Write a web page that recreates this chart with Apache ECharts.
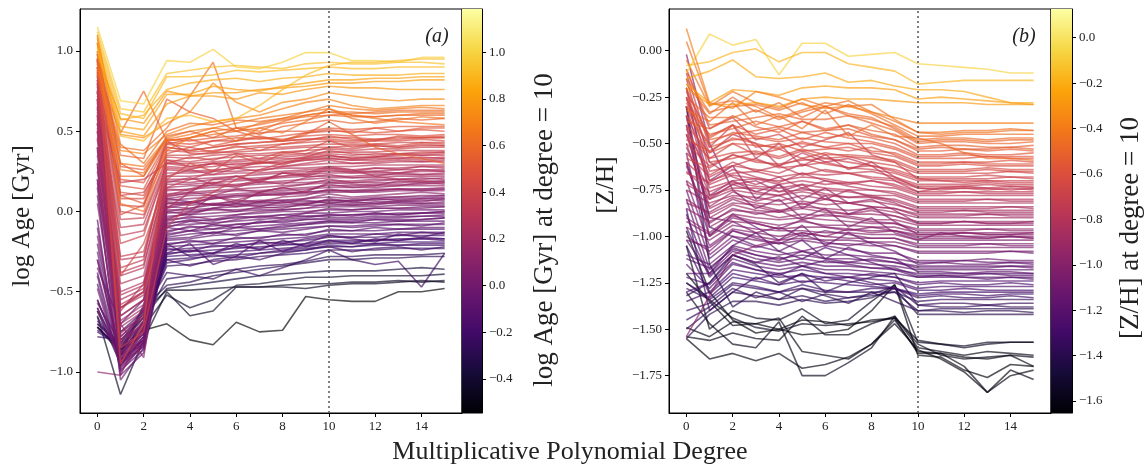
<!DOCTYPE html>
<html><head><meta charset="utf-8">
<script src="https://cdn.jsdelivr.net/npm/echarts@6/dist/echarts.min.js"></script>
<style>html,body{margin:0;padding:0;background:#fff}#c{width:1146px;height:465px}</style>
</head><body><div id="c"></div>
<script>
// ---------------- data ----------------
const degrees = [0,1,2,3,4,5,6,7,8,9,10,11,12,13,14,15];
const refDegree = 10;
const xTicks = [0,2,4,6,8,10,12,14];
const ageTicks = [-1.0,-0.5,0.0,0.5,1.0];
const zhTicks = [-1.75,-1.5,-1.25,-1.0,-0.75,-0.5,-0.25,0.0];
const ageBarTicks = [-0.4,-0.2,0.0,0.2,0.4,0.6,0.8,1.0];
const zhBarTicks = [-1.6,-1.4,-1.2,-1.0,-0.8,-0.6,-0.4,-0.2,0.0];
const ageColorRange = [-0.5457, 1.1855];
const zhColorRange = [-1.6528, 0.1264];

// log Age [Gyr] vs degree 0..15
const ageYellow = [
 [1.15,0.69,0.67,0.94,0.93,1.01,0.90,0.89,0.93,0.99,0.99,0.94,0.94,0.93,0.96,0.96],
 [1.12,0.64,0.62,0.86,0.88,0.90,0.91,0.90,0.89,0.92,0.93,0.92,0.92,0.93,0.93,0.92],
 [1.09,0.61,0.58,0.84,0.84,0.85,0.88,0.87,0.88,0.89,0.90,0.89,0.89,0.90,0.90,0.90],
 [1.06,0.57,0.60,0.76,0.80,0.82,0.83,0.81,0.83,0.84,0.86,0.85,0.85,0.85,0.86,0.86],
 [1.03,0.53,0.51,0.73,0.73,0.78,0.76,0.75,0.78,0.80,0.82,0.82,0.83,0.83,0.84,0.84],
 [1.00,0.50,0.47,0.67,0.72,0.74,0.74,0.76,0.77,0.78,0.80,0.80,0.81,0.81,0.82,0.82],
 [1.02,0.47,0.44,0.58,0.60,0.56,0.58,0.66,0.76,0.85,0.91,0.93,0.93,0.94,0.95,0.95],
 [0.97,0.58,0.55,0.75,0.72,0.72,0.70,0.74,0.73,0.76,0.78,0.77,0.77,0.76,0.76,0.76]
];
const ageOrange = [
 [0.98,0.48,0.46,0.55,0.62,0.80,0.68,0.62,0.68,0.70,0.74,0.72,0.70,0.69,0.70,0.70],
 [0.95,0.40,0.38,0.52,0.72,0.93,0.52,0.50,0.56,0.60,0.62,0.60,0.59,0.60,0.61,0.61],
 [0.92,0.38,0.36,0.48,0.53,0.56,0.58,0.60,0.64,0.68,0.70,0.66,0.64,0.65,0.66,0.66],
 [0.90,0.30,0.28,0.46,0.50,0.52,0.55,0.58,0.60,0.62,0.66,0.64,0.63,0.64,0.65,0.64],
 [0.88,0.49,0.75,0.44,0.46,0.50,0.52,0.54,0.57,0.59,0.60,0.61,0.62,0.63,0.63,0.63],
 [0.93,0.26,0.24,0.45,0.48,0.52,0.50,0.55,0.58,0.62,0.64,0.60,0.58,0.56,0.55,0.54],
 [0.86,0.22,0.22,0.44,0.46,0.48,0.50,0.52,0.55,0.57,0.60,0.59,0.59,0.60,0.60,0.60],
 [0.96,0.35,0.33,0.70,0.62,0.58,0.50,0.46,0.44,0.48,0.56,0.48,0.40,0.36,0.33,0.30],
 [1.08,0.42,0.30,0.50,0.55,0.54,0.57,0.56,0.58,0.60,0.62,0.62,0.61,0.62,0.62,0.62],
 [0.98,0.30,0.22,0.47,0.50,0.46,0.52,0.48,0.53,0.55,0.57,0.55,0.56,0.58,0.57,0.58],
 [1.05,0.05,0.00,0.38,0.46,0.50,0.44,0.52,0.49,0.56,0.64,0.58,0.55,0.57,0.59,0.58]
];
const ageRed = [
 [1.10,0.28,0.26,0.45,0.44,0.46,0.47,0.49,0.50,0.50,0.52,0.51,0.52,0.53,0.53,0.53],
 [1.05,0.20,0.18,0.43,0.42,0.44,0.46,0.45,0.47,0.49,0.50,0.50,0.49,0.50,0.51,0.50],
 [0.98,0.16,0.14,0.42,0.40,0.44,0.44,0.46,0.45,0.47,0.48,0.47,0.48,0.48,0.47,0.48],
 [0.94,0.12,0.10,0.40,0.38,0.40,0.42,0.43,0.44,0.45,0.46,0.46,0.45,0.46,0.46,0.46],
 [0.90,0.08,0.08,0.38,0.37,0.38,0.40,0.41,0.42,0.43,0.44,0.43,0.44,0.44,0.45,0.44],
 [0.86,0.04,0.03,0.44,0.36,0.36,0.38,0.40,0.40,0.41,0.42,0.42,0.42,0.43,0.43,0.43],
 [0.84,0.10,0.12,0.35,0.35,0.37,0.37,0.38,0.39,0.40,0.40,0.41,0.41,0.40,0.41,0.41],
 [0.80,0.00,-0.02,0.34,0.33,0.35,0.36,0.36,0.37,0.38,0.39,0.38,0.39,0.39,0.40,0.40],
 [0.76,-0.05,-0.04,0.32,0.31,0.33,0.34,0.35,0.35,0.36,0.37,0.37,0.37,0.38,0.38,0.38],
 [0.72,0.18,0.20,0.30,0.30,0.31,0.32,0.33,0.34,0.35,0.36,0.35,0.36,0.36,0.36,0.37],
 [0.70,-0.10,-0.08,0.30,0.28,0.30,0.31,0.32,0.33,0.33,0.34,0.34,0.34,0.35,0.35,0.35],
 [0.66,-0.15,-0.12,0.28,0.27,0.28,0.30,0.30,0.31,0.32,0.33,0.32,0.33,0.33,0.34,0.33],
 [0.88,-0.60,-0.50,0.15,0.20,0.25,0.28,0.30,0.32,0.34,0.35,0.33,0.34,0.34,0.33,0.34],
 [1.00,-0.85,-0.75,-0.10,0.05,0.12,0.20,0.26,0.30,0.34,0.38,0.36,0.35,0.36,0.37,0.37],
 [0.95,-0.95,-0.70,0.40,0.38,0.40,0.42,0.43,0.44,0.45,0.45,0.44,0.45,0.45,0.46,0.46],
 [0.92,0.10,0.05,0.42,0.45,0.41,0.44,0.47,0.44,0.49,0.51,0.49,0.52,0.50,0.52,0.52],
 [0.87,-0.02,0.04,0.36,0.40,0.37,0.41,0.38,0.42,0.44,0.47,0.45,0.44,0.47,0.46,0.47],
 [0.82,-0.20,-0.15,0.30,0.34,0.32,0.36,0.33,0.37,0.36,0.40,0.39,0.41,0.40,0.42,0.41],
 [0.74,-0.28,-0.25,0.27,0.26,0.30,0.27,0.31,0.29,0.33,0.35,0.33,0.34,0.36,0.35,0.36],
 [0.90,-0.40,-0.20,0.20,0.30,0.25,0.35,0.30,0.36,0.38,0.44,0.40,0.42,0.41,0.43,0.42]
];
const ageMagenta = [
 [0.90,-0.30,-0.28,0.26,0.25,0.26,0.27,0.28,0.28,0.29,0.30,0.30,0.30,0.31,0.31,0.31],
 [0.82,-0.40,-0.35,0.24,0.24,0.25,0.25,0.26,0.27,0.27,0.28,0.28,0.29,0.29,0.29,0.29],
 [0.75,-0.45,-0.40,0.22,0.22,0.23,0.24,0.24,0.25,0.26,0.27,0.26,0.27,0.27,0.28,0.28],
 [0.68,-0.50,-0.44,0.20,0.20,0.21,0.22,0.23,0.24,0.25,0.25,0.25,0.25,0.26,0.26,0.26],
 [0.60,-0.55,-0.48,0.19,0.18,0.20,0.20,0.21,0.22,0.23,0.24,0.24,0.24,0.24,0.25,0.25],
 [0.55,-0.60,-0.52,0.17,0.17,0.18,0.19,0.20,0.21,0.22,0.22,0.22,0.23,0.23,0.23,0.23],
 [0.50,-0.65,-0.55,0.15,0.16,0.16,0.17,0.18,0.19,0.20,0.21,0.21,0.21,0.22,0.22,0.22],
 [0.45,-0.68,-0.58,0.13,0.14,0.15,0.16,0.17,0.18,0.18,0.19,0.19,0.20,0.20,0.20,0.21],
 [0.40,-0.72,-0.62,0.11,0.12,0.13,0.14,0.15,0.16,0.17,0.18,0.18,0.18,0.18,0.19,0.19],
 [0.35,-0.75,-0.65,0.10,0.11,0.12,0.13,0.13,0.14,0.15,0.16,0.16,0.17,0.17,0.17,0.18],
 [0.30,-0.78,-0.66,0.08,0.10,0.10,0.11,0.12,0.13,0.14,0.15,0.15,0.15,0.16,0.16,0.16],
 [0.25,-0.80,-0.70,0.07,0.08,0.09,0.10,0.11,0.12,0.12,0.13,0.13,0.14,0.14,0.14,0.15],
 [-1.00,-1.02,-0.72,0.02,0.05,0.08,0.10,0.10,0.11,0.12,0.13,0.13,0.13,0.14,0.14,0.14],
 [0.20,-0.70,-0.91,0.05,0.06,0.08,0.09,0.10,0.11,0.11,0.12,0.12,0.12,0.13,0.13,0.13],
 [0.62,-0.58,-0.50,0.10,0.14,0.18,0.16,0.20,0.22,0.24,0.28,0.26,0.22,0.20,0.19,0.18],
 [0.78,-0.35,-0.30,0.32,0.28,0.30,0.29,0.31,0.30,0.32,0.33,0.32,0.32,0.33,0.32,0.33],
 [0.58,-0.62,-0.45,0.02,0.12,0.20,0.22,0.18,0.24,0.22,0.26,0.24,0.25,0.24,0.26,0.25],
 [0.64,-0.38,-0.33,0.22,0.26,0.23,0.27,0.25,0.28,0.30,0.32,0.30,0.31,0.32,0.31,0.32],
 [0.52,-0.52,-0.46,0.18,0.21,0.17,0.22,0.19,0.24,0.23,0.27,0.25,0.27,0.26,0.28,0.27],
 [0.46,-0.60,-0.50,0.14,0.13,0.17,0.15,0.19,0.17,0.21,0.23,0.21,0.22,0.24,0.23,0.24],
 [0.38,-0.70,-0.60,0.09,0.12,0.10,0.14,0.12,0.15,0.17,0.20,0.18,0.19,0.20,0.21,0.20],
 [0.28,-0.76,-0.64,0.06,0.05,0.09,0.07,0.11,0.10,0.13,0.17,0.15,0.16,0.16,0.18,0.17],
 [0.70,-0.65,-0.55,-0.05,0.00,0.10,0.05,0.12,0.15,0.12,0.18,0.17,0.16,0.19,0.18,0.19]
];
const agePurple = [
 [0.85,-0.85,-0.70,0.05,0.04,0.05,0.06,0.07,0.07,0.08,0.09,0.08,0.09,0.09,0.09,0.10],
 [0.70,-0.88,-0.72,0.03,0.02,0.04,0.04,0.05,0.06,0.06,0.07,0.07,0.07,0.08,0.08,0.08],
 [0.50,-0.90,-0.74,0.01,0.01,0.02,0.03,0.04,0.04,0.05,0.06,0.05,0.06,0.06,0.07,0.07],
 [0.30,-0.92,-0.76,-0.01,0.00,0.01,0.01,0.02,0.03,0.04,0.04,0.04,0.05,0.05,0.05,0.05],
 [0.10,-0.94,-0.78,-0.03,-0.02,-0.01,0.00,0.01,0.01,0.02,0.03,0.03,0.03,0.04,0.04,0.04],
 [-0.10,-0.95,-0.80,-0.05,-0.04,-0.03,-0.02,-0.01,0.00,0.00,0.01,0.01,0.02,0.02,0.02,0.03],
 [-0.25,-0.96,-0.82,-0.07,-0.06,-0.05,-0.04,-0.03,-0.02,-0.01,-0.01,0.00,0.00,0.01,0.01,0.01],
 [-0.40,-0.98,-0.83,-0.09,-0.08,-0.07,-0.06,-0.05,-0.04,-0.03,-0.02,-0.02,-0.02,-0.01,-0.01,-0.01],
 [-0.55,-0.92,-0.80,-0.12,-0.10,-0.09,-0.08,-0.07,-0.06,-0.05,-0.04,-0.04,-0.03,-0.03,-0.03,-0.02],
 [-0.62,-0.88,-0.76,-0.14,-0.12,-0.11,-0.10,-0.09,-0.08,-0.07,-0.06,-0.06,-0.05,-0.05,-0.05,-0.04],
 [-0.70,-0.85,-0.74,-0.16,-0.14,-0.13,-0.12,-0.11,-0.10,-0.08,-0.07,-0.07,-0.07,-0.06,-0.06,-0.06],
 [0.60,-0.80,-0.68,0.00,-0.02,0.02,0.05,0.03,0.06,0.04,0.08,0.06,0.05,0.07,0.06,0.08],
 [-0.57,-0.82,-0.60,-0.18,-0.17,-0.15,-0.14,-0.12,-0.11,-0.10,-0.09,-0.09,-0.08,-0.08,-0.08,-0.08],
 [0.95,-1.00,-0.82,0.08,0.06,0.04,0.05,0.06,0.07,0.07,0.05,0.07,0.08,0.09,0.10,0.10],
 [0.15,-1.05,-0.85,-0.08,-0.05,-0.06,-0.03,-0.04,-0.02,-0.03,-0.03,-0.02,-0.01,-0.02,-0.01,0.00],
 [-0.35,-0.70,-0.55,-0.10,-0.12,-0.08,-0.10,-0.06,-0.07,-0.05,-0.05,-0.05,-0.04,-0.04,-0.03,-0.03],
 [0.18,-0.82,-0.70,0.03,0.06,0.04,0.07,0.06,0.09,0.10,0.14,0.12,0.13,0.14,0.13,0.14],
 [0.05,-0.88,-0.74,0.00,0.02,0.05,0.03,0.06,0.05,0.08,0.11,0.09,0.10,0.11,0.12,0.11],
 [-0.15,-0.91,-0.78,-0.04,-0.01,0.02,0.00,0.03,0.02,0.05,0.07,0.06,0.08,0.07,0.08,0.09],
 [-0.30,-0.93,-0.81,-0.06,-0.03,-0.05,-0.02,0.00,0.01,0.02,0.05,0.04,0.04,0.06,0.05,0.06],
 [-0.48,-0.97,-0.84,-0.10,-0.06,-0.08,-0.05,-0.03,-0.04,-0.01,0.02,0.01,0.02,0.02,0.03,0.03],
 [-0.60,-0.94,-0.82,-0.13,-0.09,-0.11,-0.08,-0.07,-0.05,-0.04,-0.02,-0.03,-0.01,-0.02,-0.01,0.00],
 [0.80,-0.96,-0.78,-0.15,-0.12,-0.14,-0.10,-0.11,-0.09,-0.08,-0.06,-0.07,-0.05,-0.06,-0.05,-0.04]
];
const ageDeepPurple = [
 [0.20,-0.90,-0.80,-0.20,-0.19,-0.18,-0.17,-0.16,-0.15,-0.14,-0.12,-0.12,-0.12,-0.11,-0.11,-0.11],
 [-0.20,-0.92,-0.82,-0.22,-0.21,-0.20,-0.19,-0.18,-0.17,-0.16,-0.14,-0.14,-0.14,-0.13,-0.13,-0.13],
 [-0.45,-0.95,-0.84,-0.24,-0.23,-0.22,-0.21,-0.20,-0.19,-0.18,-0.16,-0.16,-0.16,-0.15,-0.15,-0.15],
 [-0.60,-0.90,-0.76,-0.26,-0.25,-0.24,-0.23,-0.22,-0.21,-0.20,-0.18,-0.18,-0.18,-0.17,-0.17,-0.17],
 [-0.68,-0.86,-0.72,-0.28,-0.27,-0.26,-0.25,-0.24,-0.23,-0.22,-0.20,-0.20,-0.20,-0.19,-0.19,-0.19],
 [-0.75,-0.84,-0.70,-0.30,-0.29,-0.28,-0.27,-0.26,-0.24,-0.23,-0.22,-0.22,-0.21,-0.21,-0.21,-0.21],
 [-0.78,-0.80,-0.66,-0.34,-0.33,-0.31,-0.30,-0.28,-0.27,-0.26,-0.24,-0.24,-0.24,-0.23,-0.23,-0.23],
 [0.40,-0.75,-0.62,-0.38,-0.40,-0.42,-0.36,-0.40,-0.35,-0.30,-0.24,-0.30,-0.33,-0.31,-0.47,-0.26],
 [-0.55,-0.90,-0.68,-0.42,-0.40,-0.38,-0.36,-0.34,-0.33,-0.31,-0.28,-0.28,-0.27,-0.27,-0.27,-0.26],
 [-0.72,-0.86,-0.60,-0.46,-0.44,-0.40,-0.38,-0.36,-0.34,-0.32,-0.30,-0.30,-0.29,-0.29,-0.28,-0.28],
 [-0.30,-0.88,-0.70,-0.20,-0.28,-0.26,-0.20,-0.24,-0.18,-0.22,-0.18,-0.20,-0.17,-0.18,-0.16,-0.17],
 [0.75,-0.78,-0.64,-0.30,-0.34,-0.30,-0.28,-0.30,-0.26,-0.24,-0.22,-0.25,-0.23,-0.22,-0.24,-0.22],
 [0.55,-0.99,-0.86,-0.17,-0.16,-0.13,-0.15,-0.12,-0.13,-0.11,-0.09,-0.10,-0.09,-0.08,-0.09,-0.07],
 [-0.05,-1.02,-0.88,-0.21,-0.18,-0.20,-0.16,-0.17,-0.14,-0.15,-0.11,-0.12,-0.10,-0.11,-0.10,-0.10],
 [-0.38,-0.93,-0.80,-0.23,-0.25,-0.21,-0.22,-0.19,-0.20,-0.17,-0.15,-0.16,-0.14,-0.15,-0.13,-0.14],
 [-0.66,-0.89,-0.74,-0.27,-0.24,-0.26,-0.22,-0.23,-0.20,-0.21,-0.19,-0.19,-0.18,-0.18,-0.17,-0.18],
 [-0.74,-0.83,-0.69,-0.32,-0.30,-0.27,-0.29,-0.26,-0.25,-0.24,-0.21,-0.22,-0.20,-0.21,-0.20,-0.20],
 [0.65,-0.90,-0.58,-0.26,-0.20,-0.33,-0.28,-0.18,-0.25,-0.20,-0.15,-0.17,-0.19,-0.14,-0.16,-0.13]
];
const ageDark = [
 [-0.72,-0.86,-0.74,-0.70,-0.80,-0.83,-0.69,-0.75,-0.74,-0.53,-0.55,-0.56,-0.56,-0.50,-0.50,-0.48],
 [-0.72,-0.88,-0.62,-0.49,-0.49,-0.48,-0.47,-0.47,-0.47,-0.48,-0.46,-0.45,-0.45,-0.44,-0.43,-0.44],
 [-0.65,-1.14,-0.80,-0.50,-0.65,-0.62,-0.47,-0.47,-0.46,-0.45,-0.45,-0.44,-0.44,-0.43,-0.44,-0.43],
 [-0.62,-0.95,-0.72,-0.52,-0.60,-0.55,-0.46,-0.45,-0.43,-0.41,-0.41,-0.40,-0.40,-0.40,-0.40,-0.39],
 [-0.70,-0.82,-0.66,-0.48,-0.46,-0.44,-0.42,-0.40,-0.39,-0.38,-0.37,-0.37,-0.37,-0.36,-0.35,-0.36]
];

// [Z/H] vs degree 0..15
const zhYellow = [
 [-0.12,0.09,0.03,0.06,-0.13,0.04,0.04,-0.03,-0.02,-0.01,-0.07,-0.08,-0.09,-0.10,-0.12,-0.12],
 [-0.08,-0.06,-0.01,0.01,-0.06,-0.01,-0.01,-0.07,-0.09,-0.11,-0.18,-0.17,-0.16,-0.16,-0.16,-0.16],
 [-0.15,-0.11,-0.05,-0.14,-0.15,-0.14,-0.12,-0.17,-0.16,-0.19,-0.21,-0.21,-0.22,-0.25,-0.28,-0.28],
 [-0.18,-0.28,-0.21,-0.22,-0.24,-0.20,-0.19,-0.20,-0.20,-0.21,-0.26,-0.25,-0.26,-0.27,-0.28,-0.29],
 [-0.20,-0.29,-0.29,-0.28,-0.30,-0.26,-0.25,-0.26,-0.26,-0.27,-0.28,-0.28,-0.28,-0.29,-0.29,-0.29],
 [0.12,-0.28,-0.31,-0.22,-0.25,-0.29,-0.31,-0.30,-0.33,-0.36,-0.39,-0.39,-0.39,-0.39,-0.39,-0.39]
];
const zhOrange = [
 [-0.05,-0.30,-0.22,-0.28,-0.31,-0.26,-0.30,-0.27,-0.33,-0.38,-0.44,-0.44,-0.43,-0.43,-0.42,-0.43],
 [-0.15,-0.33,-0.30,-0.29,-0.32,-0.28,-0.34,-0.29,-0.34,-0.40,-0.46,-0.46,-0.45,-0.45,-0.45,-0.45],
 [-0.25,-0.36,-0.36,-0.32,-0.37,-0.33,-0.30,-0.35,-0.37,-0.41,-0.48,-0.47,-0.47,-0.48,-0.47,-0.47],
 [-0.10,-0.40,-0.38,-0.36,-0.34,-0.37,-0.37,-0.35,-0.39,-0.43,-0.50,-0.49,-0.49,-0.50,-0.50,-0.49],
 [-0.30,-0.45,-0.42,-0.38,-0.41,-0.38,-0.42,-0.40,-0.43,-0.45,-0.52,-0.51,-0.51,-0.52,-0.52,-0.51],
 [-0.20,-0.48,-0.45,-0.43,-0.41,-0.44,-0.43,-0.42,-0.46,-0.48,-0.54,-0.54,-0.53,-0.54,-0.53,-0.54],
 [-0.35,-0.50,-0.44,-0.46,-0.48,-0.44,-0.47,-0.45,-0.47,-0.50,-0.56,-0.56,-0.55,-0.56,-0.56,-0.55],
 [-0.28,-0.52,-0.48,-0.47,-0.49,-0.47,-0.49,-0.50,-0.50,-0.53,-0.58,-0.58,-0.58,-0.57,-0.58,-0.58],
 [-0.40,-0.55,-0.50,-0.51,-0.52,-0.50,-0.52,-0.50,-0.54,-0.55,-0.60,-0.60,-0.60,-0.60,-0.59,-0.60],
 [-0.22,-0.46,-0.40,-0.52,-0.50,-0.54,-0.53,-0.52,-0.55,-0.57,-0.62,-0.62,-0.61,-0.62,-0.62,-0.62],
 [-0.45,-0.58,-0.55,-0.54,-0.57,-0.53,-0.56,-0.56,-0.57,-0.59,-0.64,-0.64,-0.64,-0.63,-0.64,-0.64],
 [-0.32,-0.38,-0.28,-0.40,-0.35,-0.42,-0.32,-0.46,-0.40,-0.46,-0.47,-0.50,-0.55,-0.58,-0.58,-0.59],
 [0.05,-0.29,-0.27,-0.30,-0.36,-0.32,-0.28,-0.30,-0.29,-0.37,-0.44,-0.45,-0.44,-0.44,-0.43,-0.43],
 [-0.18,-0.34,-0.25,-0.33,-0.28,-0.36,-0.30,-0.34,-0.36,-0.42,-0.49,-0.48,-0.48,-0.49,-0.48,-0.48],
 [-0.38,-0.42,-0.35,-0.41,-0.44,-0.38,-0.43,-0.40,-0.45,-0.48,-0.53,-0.52,-0.53,-0.53,-0.52,-0.53],
 [-0.26,-0.47,-0.40,-0.45,-0.42,-0.48,-0.44,-0.47,-0.49,-0.52,-0.57,-0.57,-0.56,-0.57,-0.57,-0.57],
 [-0.48,-0.54,-0.47,-0.50,-0.53,-0.49,-0.52,-0.54,-0.52,-0.56,-0.61,-0.61,-0.60,-0.61,-0.61,-0.61]
];
const zhRed = [
 [-0.35,-0.60,-0.58,-0.55,-0.58,-0.54,-0.58,-0.57,-0.60,-0.62,-0.66,-0.66,-0.66,-0.66,-0.65,-0.66],
 [-0.50,-0.62,-0.56,-0.60,-0.61,-0.59,-0.58,-0.60,-0.62,-0.64,-0.68,-0.68,-0.68,-0.67,-0.68,-0.68],
 [-0.20,-0.65,-0.62,-0.58,-0.63,-0.62,-0.60,-0.63,-0.64,-0.66,-0.70,-0.70,-0.70,-0.70,-0.70,-0.70],
 [-0.55,-0.68,-0.62,-0.64,-0.66,-0.61,-0.65,-0.66,-0.65,-0.68,-0.72,-0.72,-0.72,-0.71,-0.72,-0.72],
 [-0.40,-0.70,-0.66,-0.65,-0.68,-0.66,-0.67,-0.66,-0.69,-0.70,-0.74,-0.74,-0.74,-0.74,-0.73,-0.74],
 [-0.60,-0.72,-0.67,-0.69,-0.70,-0.68,-0.69,-0.71,-0.70,-0.72,-0.76,-0.76,-0.76,-0.76,-0.76,-0.76],
 [-0.30,-0.74,-0.70,-0.69,-0.72,-0.70,-0.72,-0.71,-0.73,-0.74,-0.78,-0.78,-0.78,-0.78,-0.78,-0.78],
 [-0.65,-0.76,-0.71,-0.73,-0.74,-0.72,-0.74,-0.75,-0.75,-0.76,-0.80,-0.80,-0.80,-0.80,-0.80,-0.80],
 [-0.45,-0.78,-0.74,-0.74,-0.76,-0.75,-0.75,-0.76,-0.78,-0.78,-0.82,-0.82,-0.82,-0.82,-0.82,-0.82],
 [-0.70,-0.80,-0.75,-0.77,-0.78,-0.76,-0.78,-0.79,-0.79,-0.80,-0.84,-0.84,-0.84,-0.84,-0.84,-0.84],
 [-0.25,-0.55,-0.45,-0.50,-0.62,-0.55,-0.60,-0.58,-0.62,-0.70,-0.76,-0.74,-0.73,-0.74,-0.75,-0.74],
 [-0.10,-0.42,-0.36,-0.48,-0.45,-0.52,-0.48,-0.44,-0.56,-0.60,-0.69,-0.70,-0.71,-0.70,-0.71,-0.71],
 [-0.30,-0.58,-0.50,-0.56,-0.53,-0.58,-0.55,-0.57,-0.58,-0.60,-0.65,-0.65,-0.65,-0.64,-0.65,-0.65],
 [-0.58,-0.63,-0.56,-0.59,-0.62,-0.58,-0.61,-0.63,-0.62,-0.65,-0.69,-0.69,-0.69,-0.69,-0.68,-0.69],
 [-0.42,-0.67,-0.60,-0.65,-0.62,-0.67,-0.64,-0.66,-0.68,-0.69,-0.73,-0.73,-0.73,-0.72,-0.73,-0.73],
 [-0.66,-0.71,-0.64,-0.68,-0.71,-0.66,-0.70,-0.72,-0.70,-0.73,-0.77,-0.77,-0.76,-0.77,-0.77,-0.77],
 [-0.15,-0.60,-0.68,-0.72,-0.68,-0.74,-0.70,-0.73,-0.75,-0.77,-0.81,-0.81,-0.81,-0.80,-0.81,-0.81],
 [-0.72,-0.79,-0.72,-0.76,-0.78,-0.74,-0.77,-0.79,-0.78,-0.81,-0.85,-0.85,-0.85,-0.85,-0.84,-0.85],
 [-0.12,-0.52,-0.40,-0.58,-0.50,-0.62,-0.56,-0.64,-0.60,-0.68,-0.74,-0.75,-0.74,-0.75,-0.74,-0.75]
];
const zhPurple = [
 [-0.75,-0.82,-0.78,-0.79,-0.81,-0.78,-0.80,-0.82,-0.81,-0.83,-0.86,-0.86,-0.86,-0.86,-0.86,-0.86],
 [-0.50,-0.85,-0.79,-0.82,-0.83,-0.81,-0.83,-0.82,-0.84,-0.85,-0.88,-0.88,-0.88,-0.88,-0.88,-0.88],
 [-0.80,-0.88,-0.82,-0.83,-0.86,-0.84,-0.85,-0.86,-0.85,-0.87,-0.90,-0.90,-0.90,-0.90,-0.90,-0.90],
 [-0.35,-0.90,-0.83,-0.86,-0.87,-0.85,-0.87,-0.88,-0.88,-0.89,-0.92,-0.92,-0.92,-0.92,-0.92,-0.92],
 [-0.85,-0.92,-0.86,-0.87,-0.90,-0.88,-0.89,-0.89,-0.91,-0.91,-0.94,-0.94,-0.94,-0.94,-0.94,-0.94],
 [-0.60,-0.95,-0.88,-0.90,-0.91,-0.90,-0.91,-0.92,-0.93,-0.93,-0.96,-0.96,-0.96,-0.96,-0.96,-0.96],
 [-0.90,-0.98,-0.89,-0.92,-0.94,-0.92,-0.94,-0.94,-0.95,-0.95,-0.98,-0.98,-0.98,-0.98,-0.98,-0.98],
 [-0.40,-1.00,-0.92,-0.93,-0.96,-0.95,-0.95,-0.96,-0.97,-0.97,-1.00,-1.00,-1.00,-1.00,-1.00,-1.00],
 [-0.95,-1.02,-0.94,-0.96,-0.97,-0.97,-0.98,-0.98,-0.99,-0.99,-1.02,-1.02,-1.02,-1.02,-1.02,-1.02],
 [-0.70,-1.05,-0.96,-0.98,-1.00,-0.98,-1.00,-1.01,-1.01,-1.01,-1.04,-1.04,-1.04,-1.04,-1.04,-1.04],
 [-1.00,-1.08,-0.97,-1.00,-1.02,-1.01,-1.02,-1.02,-1.03,-1.03,-1.06,-1.06,-1.06,-1.06,-1.06,-1.06],
 [-0.55,-1.10,-1.00,-1.02,-1.04,-1.02,-1.04,-1.04,-1.05,-1.05,-1.08,-1.08,-1.08,-1.08,-1.08,-1.08],
 [-0.02,-0.50,-0.75,-0.85,-0.80,-0.90,-0.85,-0.95,-0.90,-0.98,-1.02,-0.98,-1.00,-1.01,-1.00,-1.01],
 [-1.54,-1.32,-1.10,-1.05,-1.02,-0.98,-1.00,-0.96,-0.98,-0.97,-0.99,-0.99,-0.98,-0.99,-0.99,-0.99],
 [-0.20,-0.78,-0.70,-0.76,-0.72,-0.80,-0.74,-0.82,-0.80,-0.86,-0.93,-0.93,-0.92,-0.93,-0.93,-0.92],
 [-0.45,-0.84,-0.76,-0.81,-0.78,-0.83,-0.80,-0.82,-0.84,-0.85,-0.89,-0.89,-0.89,-0.88,-0.89,-0.89],
 [-0.82,-0.87,-0.80,-0.84,-0.87,-0.82,-0.86,-0.88,-0.86,-0.89,-0.93,-0.93,-0.92,-0.93,-0.93,-0.93],
 [-0.62,-0.93,-0.85,-0.88,-0.86,-0.91,-0.88,-0.90,-0.92,-0.93,-0.97,-0.97,-0.97,-0.96,-0.97,-0.97],
 [-0.92,-0.99,-0.90,-0.93,-0.96,-0.91,-0.95,-0.97,-0.95,-0.97,-1.01,-1.01,-1.01,-1.01,-1.00,-1.01],
 [-0.35,-0.90,-0.92,-0.98,-0.95,-1.00,-0.97,-0.99,-1.01,-1.01,-1.05,-1.05,-1.05,-1.04,-1.05,-1.05],
 [-1.02,-1.06,-0.97,-1.01,-1.04,-0.99,-1.03,-1.05,-1.03,-1.05,-1.09,-1.09,-1.09,-1.09,-1.08,-1.09],
 [-0.25,-0.70,-0.62,-0.80,-0.72,-0.85,-0.78,-0.88,-0.84,-0.92,-0.99,-0.99,-0.98,-0.99,-0.99,-0.98],
 [-0.52,-0.80,-0.72,-0.70,-0.76,-0.72,-0.80,-0.75,-0.79,-0.82,-0.87,-0.87,-0.86,-0.87,-0.87,-0.87]
];
const zhDeep = [
 [-1.10,-1.15,-1.05,-1.08,-1.10,-1.08,-1.10,-1.10,-1.11,-1.12,-1.14,-1.14,-1.13,-1.14,-1.14,-1.14],
 [-0.80,-1.18,-1.06,-1.10,-1.12,-1.10,-1.12,-1.12,-1.13,-1.14,-1.16,-1.16,-1.16,-1.16,-1.16,-1.16],
 [-1.20,-1.20,-1.08,-1.12,-1.14,-1.12,-1.14,-1.14,-1.15,-1.16,-1.18,-1.18,-1.18,-1.18,-1.18,-1.18],
 [-0.95,-1.22,-1.10,-1.14,-1.16,-1.14,-1.16,-1.16,-1.17,-1.18,-1.20,-1.20,-1.20,-1.20,-1.20,-1.20],
 [-1.30,-1.25,-1.12,-1.16,-1.18,-1.16,-1.18,-1.18,-1.19,-1.20,-1.22,-1.22,-1.22,-1.22,-1.22,-1.22],
 [-1.15,-1.28,-1.15,-1.18,-1.20,-1.18,-1.20,-1.20,-1.21,-1.22,-1.25,-1.24,-1.24,-1.24,-1.24,-1.24],
 [-1.35,-1.30,-1.18,-1.20,-1.22,-1.21,-1.22,-1.22,-1.23,-1.24,-1.28,-1.27,-1.27,-1.27,-1.27,-1.27],
 [-1.25,-1.33,-1.22,-1.24,-1.26,-1.24,-1.25,-1.26,-1.27,-1.28,-1.31,-1.30,-1.30,-1.30,-1.30,-1.30],
 [-1.40,-1.36,-1.26,-1.28,-1.30,-1.28,-1.30,-1.30,-1.30,-1.30,-1.35,-1.34,-1.34,-1.34,-1.34,-1.34],
 [-1.50,-1.40,-1.30,-1.32,-1.34,-1.32,-1.35,-1.33,-1.32,-1.30,-1.40,-1.39,-1.39,-1.39,-1.39,-1.39],
 [-1.55,-1.42,-1.35,-1.35,-1.37,-1.34,-1.36,-1.35,-1.33,-1.28,-1.42,-1.42,-1.42,-1.42,-1.42,-1.42],
 [-1.32,-1.25,-1.10,-1.15,-1.25,-1.20,-1.30,-1.25,-1.22,-1.20,-1.37,-1.38,-1.38,-1.37,-1.38,-1.38],
 [-0.30,-0.95,-1.00,-1.05,-1.08,-1.12,-1.06,-1.10,-1.14,-1.18,-1.22,-1.21,-1.22,-1.23,-1.22,-1.23],
 [-0.75,-1.12,-1.02,-1.06,-1.03,-1.08,-1.05,-1.07,-1.09,-1.09,-1.13,-1.13,-1.13,-1.12,-1.13,-1.13],
 [-1.12,-1.17,-1.07,-1.10,-1.13,-1.08,-1.12,-1.14,-1.12,-1.14,-1.17,-1.17,-1.17,-1.17,-1.16,-1.17],
 [-0.88,-1.21,-1.10,-1.14,-1.11,-1.16,-1.13,-1.15,-1.17,-1.17,-1.21,-1.21,-1.21,-1.20,-1.21,-1.21],
 [-1.22,-1.26,-1.14,-1.18,-1.21,-1.16,-1.20,-1.22,-1.20,-1.22,-1.26,-1.25,-1.26,-1.26,-1.25,-1.26],
 [-1.05,-1.31,-1.20,-1.23,-1.20,-1.25,-1.22,-1.24,-1.26,-1.25,-1.29,-1.29,-1.28,-1.29,-1.29,-1.29],
 [-1.28,-1.34,-1.25,-1.27,-1.30,-1.26,-1.29,-1.30,-1.28,-1.28,-1.33,-1.32,-1.33,-1.33,-1.32,-1.33],
 [-1.45,-1.38,-1.28,-1.33,-1.30,-1.35,-1.31,-1.33,-1.31,-1.27,-1.37,-1.36,-1.36,-1.37,-1.36,-1.36],
 [-0.60,-1.00,-0.88,-0.95,-1.02,-0.94,-1.05,-0.98,-1.04,-1.08,-1.15,-1.14,-1.15,-1.15,-1.14,-1.15],
 [-1.02,-1.20,-1.05,-0.98,-1.08,-1.02,-1.12,-1.06,-1.10,-1.12,-1.19,-1.19,-1.20,-1.19,-1.19,-1.20],
 [-0.85,-1.40,-1.30,-1.22,-1.26,-1.20,-1.24,-1.22,-1.25,-1.28,-1.32,-1.31,-1.31,-1.32,-1.31,-1.31],
 [-0.30,-1.15,-1.38,-1.30,-1.34,-1.28,-1.32,-1.36,-1.30,-1.35,-1.40,-1.40,-1.41,-1.40,-1.40,-1.41]
];
const zhBlack = [
 [-1.55,-1.66,-1.63,-1.67,-1.63,-1.71,-1.69,-1.65,-1.58,-1.45,-1.62,-1.63,-1.70,-1.84,-1.72,-1.77],
 [-1.49,-1.54,-1.46,-1.47,-1.44,-1.62,-1.64,-1.66,-1.58,-1.47,-1.61,-1.66,-1.73,-1.84,-1.75,-1.72],
 [-1.54,-1.56,-1.52,-1.55,-1.56,-1.43,-1.53,-1.53,-1.47,-1.43,-1.60,-1.62,-1.64,-1.62,-1.63,-1.64],
 [-1.30,-1.47,-1.58,-1.60,-1.46,-1.75,-1.75,-1.68,-1.60,-1.43,-1.58,-1.64,-1.66,-1.65,-1.64,-1.65],
 [-1.25,-1.34,-1.44,-1.49,-1.51,-1.47,-1.48,-1.47,-1.46,-1.44,-1.56,-1.58,-1.60,-1.58,-1.57,-1.57],
 [-1.05,-1.50,-1.40,-1.44,-1.45,-1.39,-1.47,-1.45,-1.35,-1.26,-1.57,-1.58,-1.59,-1.57,-1.57,-1.57],
 [-0.97,-1.30,-1.45,-1.52,-1.50,-1.53,-1.52,-1.50,-1.40,-1.26,-1.64,-1.65,-1.72,-1.76,-1.69,-1.70],
 [-1.20,-1.35,-1.48,-1.47,-1.50,-1.45,-1.46,-1.48,-1.45,-1.44,-1.63,-1.63,-1.65,-1.66,-1.64,-1.70]
];

const ageLines = [].concat(ageDark, ageDeepPurple, agePurple, ageMagenta, ageRed, ageOrange, ageYellow);
const zhLines = [].concat(zhBlack, zhDeep, zhPurple, zhRed, zhOrange, zhYellow);

// ---------------- colour map (inferno) ----------------
const infernoStops = ['#000004','#160b39','#420a68','#6a176e','#932667','#bc3754','#dd513a','#f37819','#fca50a','#f6d746','#fcffa4'];
function hexRgb(h){return [parseInt(h.slice(1,3),16),parseInt(h.slice(3,5),16),parseInt(h.slice(5,7),16)];}
function inferno(t){
  t = Math.max(0, Math.min(1, t));
  const s = t * 10, i = Math.min(9, Math.floor(s)), f = s - i;
  const a = hexRgb(infernoStops[i]), b = hexRgb(infernoStops[i+1]);
  return 'rgb(' + a.map((v,k)=>Math.round(v + (b[k]-v)*f)).join(',') + ')';
}
const gradStops = infernoStops.map((c,i)=>({offset:i/10, color:c}));

const FONT = '"Liberation Serif", "DejaVu Serif", serif';
const fmt = d => v => (v < 0 ? '\u2212' : '') + Math.abs(v).toFixed(d);

function lineSeries(lines, xi, range){
  return lines.map((ln, k) => {
    const t = (ln[degrees.indexOf(refDegree)] - range[0]) / (range[1] - range[0]);
    const s = {
      type:'line', xAxisIndex:xi, yAxisIndex:xi, silent:true, symbol:'none',
      data: degrees.map((d,i)=>[d, ln[i]]),
      lineStyle:{width:1.6, color: inferno(t), opacity:0.66},
      z: 2
    };
    if (k === lines.length - 1) {
      s.markLine = {silent:true, symbol:'none', label:{show:false}, animation:false,
        lineStyle:{type:[2,3], color:'#555', width:1.5}, data:[{xAxis:refDegree}]};
    }
    return s;
  });
}
function barSeries(xi, range){
  return {
    type:'custom', xAxisIndex:xi, yAxisIndex:xi, silent:true,
    data:[[0, range[0], range[1]]],
    renderItem:(p, api)=>{
      const a = api.coord([0, api.value(2)]), b = api.coord([1, api.value(1)]);
      return {type:'rect', shape:{x:a[0], y:a[1], width:b[0]-a[0], height:b[1]-a[1]},
        style:{fill:new echarts.graphic.LinearGradient(0,1,0,0,gradStops)}};
    }
  };
}

const axLine = {show:true, onZero:false, lineStyle:{color:'#000', width:1}};
const labelStyle = {fontFamily:FONT, fontSize:13, color:'#222', margin:7};
function plotX(){
  return {type:'value', min:-0.75, max:15.75, axisLine:axLine,
    axisTick:{show:true, inside:false, length:4, customValues:xTicks, lineStyle:{color:'#000'}},
    axisLabel:Object.assign({customValues:xTicks, formatter:v=>String(v)}, labelStyle),
    splitLine:{show:false}};
}
function plotY(min,max,ticks,dec){
  return {type:'value', min, max, axisLine:axLine,
    axisTick:{show:true, length:4, customValues:ticks, lineStyle:{color:'#000'}},
    axisLabel:Object.assign({customValues:ticks, formatter:fmt(dec)}, labelStyle),
    splitLine:{show:false}};
}
function barX(){ return {type:'value', min:0, max:1, show:false}; }
function barY(range, ticks){
  return {type:'value', position:'right', min:range[0], max:range[1], axisLine:axLine,
    axisTick:{show:true, length:4, customValues:ticks, lineStyle:{color:'#000'}},
    axisLabel:Object.assign({customValues:ticks, formatter:fmt(1)}, labelStyle),
    splitLine:{show:false}};
}
const gb = {show:true, borderColor:'#000', borderWidth:1, backgroundColor:'transparent', containLabel:false, outerBoundsMode:'none'};

const chart = echarts.init(document.getElementById('c'), null, {renderer:'canvas'});
chart.setOption({
  animation:false,
  backgroundColor:'#fff',
  grid:[
    Object.assign({left:80, top:9, width:382, height:404}, gb),
    Object.assign({left:462, top:9, width:20, height:404}, gb),
    Object.assign({left:669, top:9, width:382, height:404}, gb),
    Object.assign({left:1051, top:9, width:21, height:404}, gb)
  ],
  xAxis:[
    Object.assign(plotX(), {gridIndex:0}),
    Object.assign(barX(), {gridIndex:1}),
    Object.assign(plotX(), {gridIndex:2}),
    Object.assign(barX(), {gridIndex:3})
  ],
  yAxis:[
    Object.assign(plotY(-1.2555, 1.2617, ageTicks, 1), {gridIndex:0}),
    Object.assign(barY(ageColorRange, ageBarTicks), {gridIndex:1}),
    Object.assign(plotY(-1.951, 0.2245, zhTicks, 2), {gridIndex:2}),
    Object.assign(barY(zhColorRange, zhBarTicks), {gridIndex:3})
  ],
  series:[].concat(
    lineSeries(ageLines, 0, ageColorRange),
    [barSeries(1, ageColorRange)],
    lineSeries(zhLines, 2, zhColorRange),
    [barSeries(3, zhColorRange)]
  ),
  graphic:[
    {type:'text', x:570, y:452, style:{text:'Multiplicative Polynomial Degree', font:'26px '+FONT, fill:'#222', textAlign:'center', textVerticalAlign:'middle'}},
    {type:'text', x:22, y:216, rotation:Math.PI/2, style:{text:'log Age [Gyr]', font:'25px '+FONT, fill:'#222', textAlign:'center', textVerticalAlign:'middle'}},
    {type:'text', x:545, y:230, rotation:Math.PI/2, style:{text:'log Age [Gyr] at degree = 10', font:'27px '+FONT, fill:'#222', textAlign:'center', textVerticalAlign:'middle'}},
    {type:'text', x:606, y:185, rotation:Math.PI/2, style:{text:'[Z/H]', font:'25px '+FONT, fill:'#222', textAlign:'center', textVerticalAlign:'middle'}},
    {type:'text', x:1131, y:228, rotation:Math.PI/2, style:{text:'[Z/H] at degree = 10', font:'27px '+FONT, fill:'#222', textAlign:'center', textVerticalAlign:'middle'}},
    {type:'text', x:437, y:37, style:{text:'(a)', font:'italic 20px '+FONT, fill:'#222', textAlign:'center', textVerticalAlign:'middle'}},
    {type:'text', x:1024, y:37, style:{text:'(b)', font:'italic 20px '+FONT, fill:'#222', textAlign:'center', textVerticalAlign:'middle'}}
  ]
});
</script></body></html>
